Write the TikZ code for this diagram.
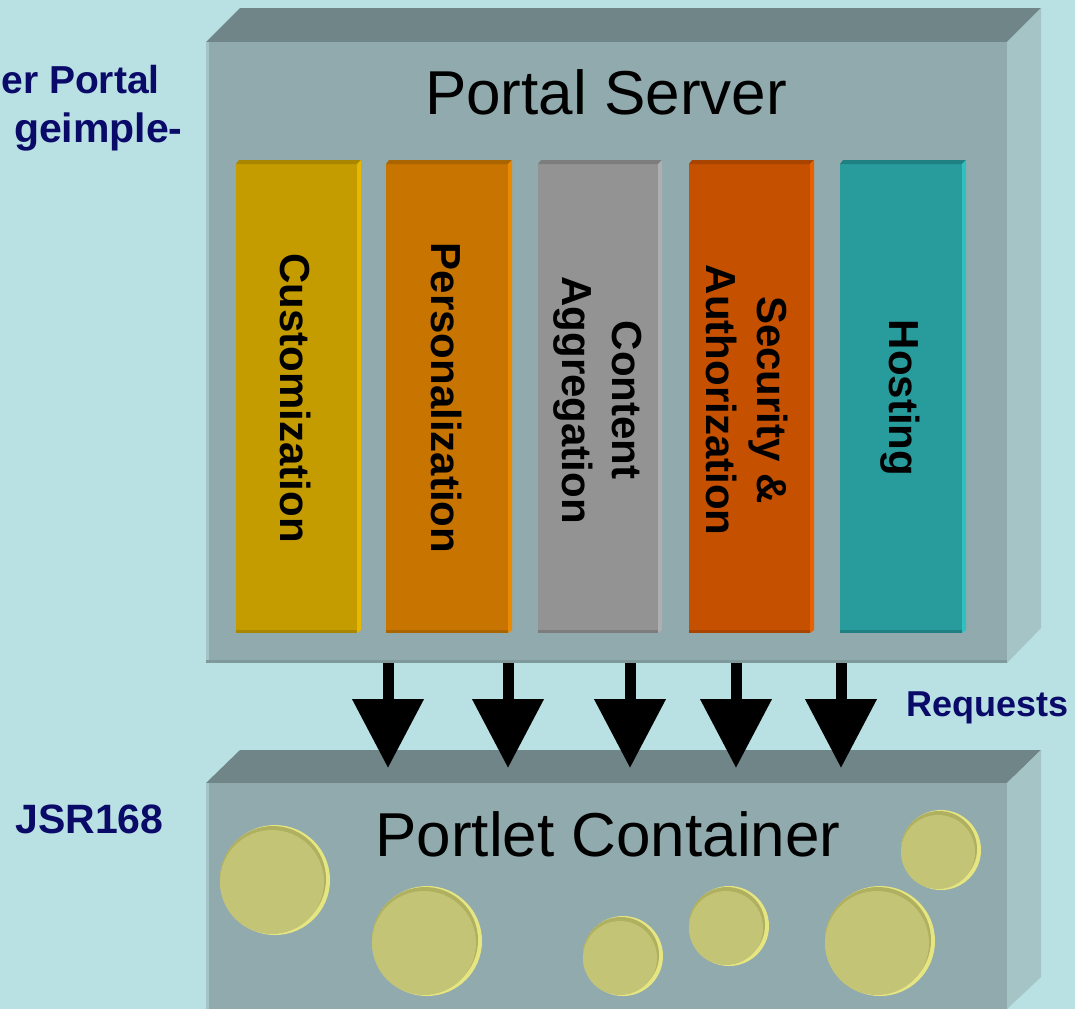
\documentclass[tikz,border=0pt]{standalone}
\usepackage{fontspec}
\setmainfont{Liberation Sans}
\usetikzlibrary{arrows.meta}
\usetikzlibrary{positioning}
\definecolor{bgcyan}{rgb}{0.725, 0.878, 0.890}
\definecolor{boxtop}{rgb}{0.435, 0.522, 0.529}
\definecolor{boxfront}{rgb}{0.569, 0.667, 0.678}
\definecolor{boxside}{rgb}{0.647, 0.769, 0.776}
\definecolor{boxedge}{rgb}{0.498, 0.596, 0.604}
\definecolor{navy}{rgb}{0.04, 0.04, 0.41}
\definecolor{cust}{rgb}{0.769, 0.612, 0.0}
\definecolor{custtop}{rgb}{0.659, 0.525, 0.0}
\definecolor{custside}{rgb}{0.910, 0.722, 0.0}
\definecolor{pers}{rgb}{0.780, 0.455, 0.0}
\definecolor{perstop}{rgb}{0.667, 0.392, 0.0}
\definecolor{persside}{rgb}{0.914, 0.541, 0.0}
\definecolor{aggr}{rgb}{0.576, 0.576, 0.576}
\definecolor{aggrtop}{rgb}{0.490, 0.490, 0.490}
\definecolor{aggrside}{rgb}{0.686, 0.686, 0.686}
\definecolor{secu}{rgb}{0.769, 0.314, 0.0}
\definecolor{secutop}{rgb}{0.659, 0.267, 0.0}
\definecolor{secuside}{rgb}{0.910, 0.376, 0.0}
\definecolor{host}{rgb}{0.157, 0.612, 0.612}
\definecolor{hosttop}{rgb}{0.118, 0.502, 0.502}
\definecolor{hostside}{rgb}{0.188, 0.753, 0.753}
\definecolor{coinface}{rgb}{0.769, 0.769, 0.463}
\definecolor{coinrim}{rgb}{0.898, 0.898, 0.510}
\definecolor{coinedge}{rgb}{0.690, 0.690, 0.380}
\tikzset{
    boxtitle/.style={inner sep=0, font=\fontsize{31}{37}\selectfont},
    colname/.style={inner sep=0, rotate=-90, align=center, font=\fontsize{21}{25}\selectfont\bfseries},
    sidenote/.style={inner sep=0, text=navy, font=\fontsize{20.5}{24}\selectfont\bfseries},
    request/.style={line width=5.5pt, -{Triangle[width=34.5pt,length=34.5pt]}}
}

\begin{document}
\begin{tikzpicture}[x=0.5pt, y=-0.5pt]
    \useasboundingbox (0, 0) rectangle (1075, 1009);
    \fill [bgcyan] (0, 0) rectangle (1075, 1009);

    % portal server box
    \fill [boxtop] (206, 42) -- (240, 8) -- (1041, 8) -- (1007, 42) -- cycle;
    \fill [boxside] (1007, 42) -- (1041, 8) -- (1041, 628) -- (1007, 663) -- cycle;
    \fill [boxfront] (206, 42) rectangle (1007, 663);
    \fill [boxside] (206, 42) rectangle (209, 663);
    \fill [boxedge] (206, 660) rectangle (1007, 663);
    \node [boxtitle, anchor=base] (server) at (606, 114) {Portal Server};

    % columns
    \fill [cust] (236, 164) rectangle (357, 633);
    \fill [custtop] (236, 164) -- (239, 160) -- (361, 160) -- (357, 164) -- cycle;
    \fill [custside] (357, 164) -- (361, 160) -- (361, 630) -- (357, 633) -- cycle;
    \fill [custtop] (236, 630) rectangle (357, 633);
    \fill [pers] (386, 164) rectangle (508, 633);
    \fill [perstop] (386, 164) -- (389, 160) -- (512, 160) -- (508, 164) -- cycle;
    \fill [persside] (508, 164) -- (512, 160) -- (512, 630) -- (508, 633) -- cycle;
    \fill [perstop] (386, 630) rectangle (508, 633);
    \fill [aggr] (538, 164) rectangle (658, 633);
    \fill [aggrtop] (538, 164) -- (541, 160) -- (662, 160) -- (658, 164) -- cycle;
    \fill [aggrside] (658, 164) -- (662, 160) -- (662, 630) -- (658, 633) -- cycle;
    \fill [aggrtop] (538, 630) rectangle (658, 633);
    \fill [secu] (689, 164) rectangle (810, 633);
    \fill [secutop] (689, 164) -- (692, 160) -- (814, 160) -- (810, 164) -- cycle;
    \fill [secuside] (810, 164) -- (814, 160) -- (814, 630) -- (810, 633) -- cycle;
    \fill [secutop] (689, 630) rectangle (810, 633);
    \fill [host] (840, 164) rectangle (962, 633);
    \fill [hosttop] (840, 164) -- (843, 160) -- (966, 160) -- (962, 164) -- cycle;
    \fill [hostside] (962, 164) -- (966, 160) -- (966, 630) -- (962, 633) -- cycle;
    \fill [hosttop] (840, 630) rectangle (962, 633);

    \node [colname] (custname) at (296, 398) {Customization};
    \node [colname] (persname) at (447, 398) {Personalization};
    \node [colname] (aggrname) at (598, 400) {Content\\Aggregation};
    \node [colname] (secuname) at (747, 400) {Security \&\\Authorization};
    \node [colname] (hostname) at (900, 398) {Hosting};

    % portlet container box
    \fill [boxtop] (206, 783) -- (240, 750) -- (1041, 750) -- (1007, 783) -- cycle;
    \fill [boxside] (1007, 783) -- (1041, 750) -- (1041, 977) -- (1007, 1009) -- cycle;
    \fill [boxfront] (206, 783) rectangle (1007, 1009);
    \fill [boxside] (206, 783) rectangle (209, 1009);
    \node [boxtitle, anchor=base] (container) at (608, 856) {Portlet Container};

    % portlets
    \fill [coinrim] (275, 880) circle (55);
    \fill [coinedge] (273, 879) circle (53);
    \fill [coinface] (272, 882) circle (52);
    \fill [coinrim] (427, 941) circle (55);
    \fill [coinedge] (425, 940) circle (53);
    \fill [coinface] (424, 943) circle (52);
    \fill [coinrim] (623, 956) circle (40);
    \fill [coinedge] (621, 955) circle (38);
    \fill [coinface] (620, 958) circle (37);
    \fill [coinrim] (729, 926) circle (40);
    \fill [coinedge] (727, 925) circle (38);
    \fill [coinface] (726, 928) circle (37);
    \fill [coinrim] (880, 941) circle (55);
    \fill [coinedge] (878, 940) circle (53);
    \fill [coinface] (877, 943) circle (52);
    \fill [coinrim] (941, 850) circle (40);
    \fill [coinedge] (939, 849) circle (38);
    \fill [coinface] (938, 852) circle (37);

    % requests
    \coordinate (req1) at (388, 663);
    \coordinate (req2) at (508, 663);
    \coordinate (req3) at (630, 663);
    \coordinate (req4) at (736, 663);
    \coordinate (req5) at (841, 663);
    \coordinate (hit1) at (388, 768);
    \coordinate (hit2) at (508, 768);
    \coordinate (hit3) at (630, 768);
    \coordinate (hit4) at (736, 768);
    \coordinate (hit5) at (841, 768);
    \draw [request] (req1) -- (hit1);
    \draw [request] (req2) -- (hit2);
    \draw [request] (req3) -- (hit3);
    \draw [request] (req4) -- (hit4);
    \draw [request] (req5) -- (hit5);
    \node [sidenote, anchor=base west, font=\fontsize{18}{21}\selectfont\bfseries] (requests) at (906, 716) {Requests};

    \node [sidenote, anchor=base west, font=\fontsize{19.5}{23}\selectfont\bfseries] (portalnote) at (1, 93) {er Portal};
    \node [sidenote, anchor=base east] (implnote) at (183, 142) {geimple-};
    \node [sidenote, anchor=base west] (jsr) at (15, 833) {JSR168};
\end{tikzpicture}
\end{document}
